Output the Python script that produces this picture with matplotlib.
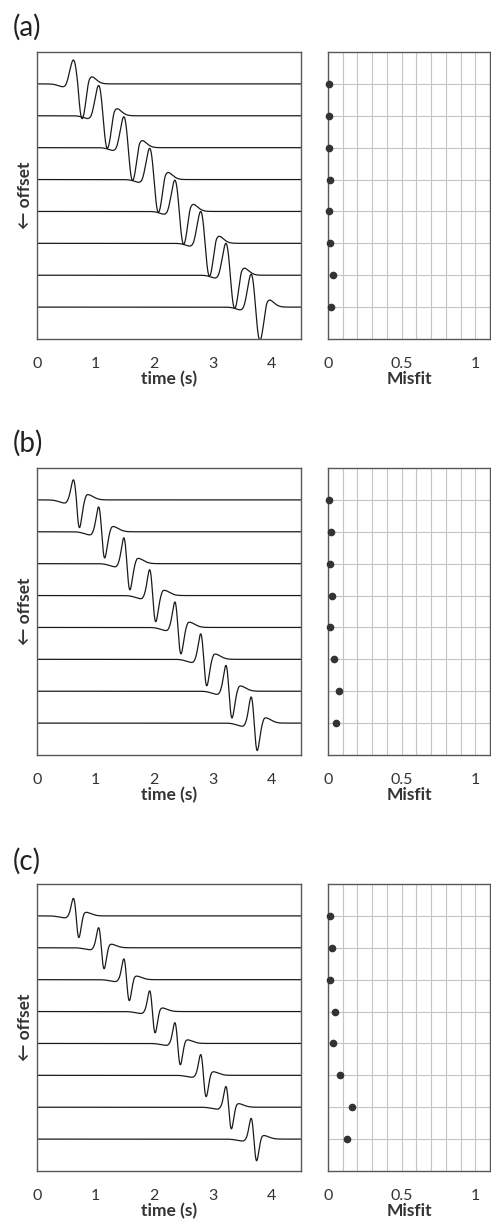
import numpy as np
import matplotlib.pyplot as plt

plt.rcParams['font.family'] = ['Lato', 'DejaVu Sans']

# arrival time of the main peak on each trace (s), top trace first
peak_times = [0.62, 1.05, 1.48, 1.92, 2.35, 2.79, 3.22, 3.65]
trace_levels = [8, 7, 6, 5, 4, 3, 2, 1]

panel_names = ['(a)', '(b)', '(c)']

# wavelet shape
half_widths = [0.075, 0.052, 0.047]
peak_amps = [
    [0.75, 0.95, 0.97, 0.98, 0.98, 1.0, 1.0, 1.03],
    [0.63, 0.78, 0.81, 0.81, 0.80, 0.80, 0.81, 0.82],
    [0.55, 0.63, 0.65, 0.65, 0.65, 0.65, 0.65, 0.65],
]
trough_amps = [
    [1.09, 1.02, 1.03, 1.03, 1.03, 1.03, 1.04, 1.04],
    [0.87, 0.82, 0.82, 0.82, 0.83, 0.83, 0.84, 0.86],
    [0.68, 0.66, 0.66, 0.67, 0.67, 0.67, 0.68, 0.68],
]
bump_amps = [0.28, 0.17, 0.12]
bump_lags = [0.12, 0.13, 0.10]
dip_amps = [0.11, 0.10, 0.06]

# misfit per trace, top trace first
misfit_a = [0.007, 0.009, 0.007, 0.011, 0.009, 0.016, 0.032, 0.021]
misfit_b = [0.009, 0.018, 0.011, 0.027, 0.016, 0.039, 0.078, 0.055]
misfit_c = [0.011, 0.025, 0.016, 0.046, 0.034, 0.082, 0.160, 0.126]
misfits = [misfit_a, misfit_b, misfit_c]

time_ticks = [0, 1, 2, 3, 4]
misfit_ticks = [0, 0.5, 1]
misfit_labels = ['0', '0.5', '1']
misfit_minor = [0.1, 0.2, 0.3, 0.4, 0.6, 0.7, 0.8, 0.9, 1.0]


def wavelet(t, tp, sig, a_up, a_down, bump, lag, dip):
    tc = tp + sig
    x = (t - tc) / sig
    main = -x * np.exp(0.5 - 0.5 * x ** 2) * np.where(x < 0, a_up, a_down)
    tb = tc + sig + lag
    sb = np.where(t < tb, 0.035, 0.1)
    td = tp - 0.14
    sd = np.where(t < td, 0.1, 0.04)
    return (main + bump * np.exp(-0.5 * ((t - tb) / sb) ** 2)
            - dip * np.exp(-0.5 * ((t - td) / sd) ** 2))


W, H = 491, 1227
fig = plt.figure(figsize=(W / 100, H / 100), dpi=100)

ax_bottoms = [339, 755, 1171]
name_y = [27, 443, 861]
frame_col = '#595959'
text_col = '#333333'

t = np.linspace(0, 4.5, 3000)

for p in range(3):
    b = 1 - ax_bottoms[p] / H
    h = 287 / H
    ax = fig.add_axes([37 / W, b, 264 / W, h])
    ax2 = fig.add_axes([328 / W, b, 162 / W, h])

    for k in range(8):
        y = wavelet(t, peak_times[k], half_widths[p], peak_amps[p][k],
                    trough_amps[p][k], bump_amps[p], bump_lags[p], dip_amps[p])
        ax.plot(t, trace_levels[k] + y, color='#1a1a1a', lw=0.9)

    ax.set_xlim(0, 4.5)
    ax.set_ylim(0, 9)
    ax.set_xticks(time_ticks)
    ax.set_yticks([])
    ax.tick_params(length=0, pad=13, labelsize=11.5, labelcolor=text_col)
    ax.set_xlabel('time (s)', fontweight='bold', fontsize=12.5, color=text_col, labelpad=0)
    ax.set_ylabel('← offset', fontweight='bold', fontsize=12.5, color=text_col, labelpad=3)

    ax2.plot(misfits[p], trace_levels, 'o', color='#333333', ms=4.5,
             clip_on=False, zorder=3)
    ax2.set_xlim(0, 1.1)
    ax2.set_ylim(0, 9)
    ax2.set_xticks(misfit_ticks)
    ax2.set_xticklabels(misfit_labels)
    ax2.set_xticks(misfit_minor, minor=True)
    ax2.set_yticks(trace_levels)
    ax2.set_yticklabels([])
    ax2.grid(True, which='both', color='#c4c4c4', lw=0.8)
    ax2.set_axisbelow(True)
    ax2.tick_params(which='both', length=0, pad=13, labelsize=11.5, labelcolor=text_col)
    ax2.set_xlabel('Misfit', fontweight='bold', fontsize=12.5, color=text_col, labelpad=0)

    for a in (ax, ax2):
        for s in a.spines.values():
            s.set_color(frame_col)
            s.set_linewidth(1.0)

    fig.text(13 / W, 1 - name_y[p] / H, panel_names[p], fontsize=20,
             va='center', ha='left', color='#222222')

fig.savefig('out.png', dpi=100)
